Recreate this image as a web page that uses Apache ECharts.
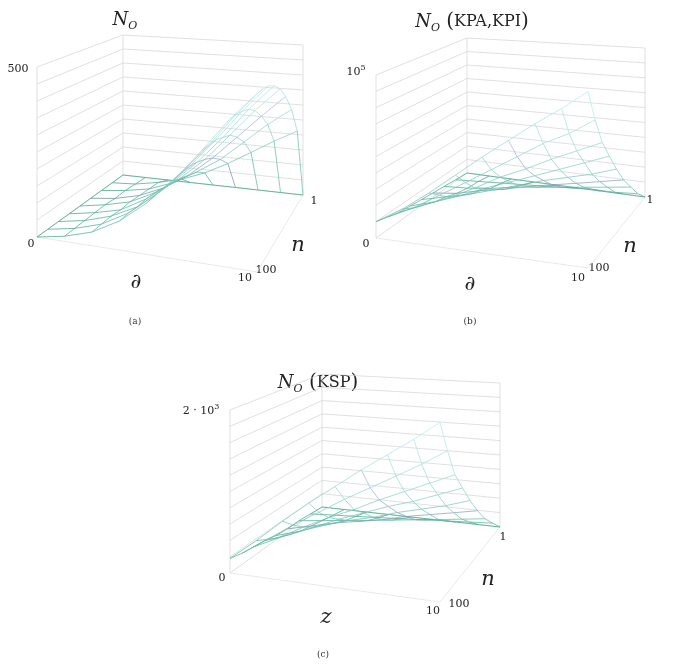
<!DOCTYPE html>
<html><head><meta charset="utf-8">
<script src="https://cdn.jsdelivr.net/npm/echarts@6/dist/echarts.min.js"></script>
<style>html,body{margin:0;padding:0;background:#fff}#c{width:676px;height:668px}</style>
</head><body><div id="c"></div>
<script>
// Surface heights as fraction of z-axis max. Rows: n from 1 (back) to 100 (front); cols: x-axis 0 -> 10
const surfA = [
 [0,0,0,0,0,0,0,0,0],
 [0,0.01,0.04,0.08,0.14,0.22,0.31,0.40,0.48],
 [0,0.02,0.05,0.11,0.20,0.30,0.43,0.56,0.67],
 [0,0.02,0.06,0.13,0.23,0.36,0.51,0.66,0.80],
 [0,0.03,0.07,0.15,0.26,0.40,0.57,0.74,0.89],
 [0,0.03,0.07,0.16,0.28,0.43,0.60,0.79,0.95],
 [0,0.03,0.08,0.16,0.29,0.45,0.63,0.82,0.99],
 [0,0.03,0.08,0.17,0.30,0.46,0.64,0.84,1.01],
 [0,0.03,0.08,0.17,0.30,0.46,0.65,0.85,1.02]
];
const surfB = [
 [0,0,0,0,0,0,0,0,0],
 [0.01,0.02,0.03,0.04,0.05,0.06,0.07,0.07,0.08],
 [0.02,0.03,0.05,0.08,0.10,0.12,0.14,0.16,0.18],
 [0.03,0.05,0.09,0.12,0.16,0.19,0.22,0.25,0.28],
 [0.04,0.08,0.12,0.17,0.22,0.27,0.31,0.35,0.40],
 [0.05,0.10,0.16,0.23,0.29,0.35,0.41,0.47,0.53],
 [0.06,0.13,0.20,0.28,0.37,0.44,0.52,0.59,0.66],
 [0.08,0.16,0.26,0.36,0.46,0.56,0.66,0.74,0.84],
 [0.10,0.20,0.32,0.45,0.58,0.70,0.82,0.93,1.05]
];
const surfC = [
 [0,0,0,0,0,0,0,0,0],
 [0.01,0.02,0.03,0.04,0.05,0.06,0.07,0.08,0.09],
 [0.02,0.04,0.06,0.08,0.10,0.12,0.14,0.16,0.18],
 [0.02,0.06,0.10,0.13,0.16,0.20,0.23,0.26,0.29],
 [0.03,0.08,0.14,0.19,0.23,0.28,0.32,0.36,0.41],
 [0.05,0.11,0.18,0.25,0.31,0.37,0.42,0.48,0.54],
 [0.06,0.14,0.23,0.31,0.38,0.46,0.53,0.60,0.67],
 [0.07,0.18,0.29,0.39,0.49,0.58,0.67,0.76,0.86],
 [0.09,0.22,0.36,0.49,0.61,0.73,0.84,0.95,1.07]
];
const nTicks = ['1','100'];
const xTicks = ['0','10'];

const panels = [
 {D:[123,175],C:[303,195],B:[257,272],A:[37,237],H:[140,150,175,170],s:surfA},
 {D:[467,173],C:[645,197],B:[588,268],A:[376,238],H:[135,149,168,163],s:surfB},
 {D:[322,507],C:[500,527],B:[440,602],A:[230,573],H:[133,144,168,163],s:surfC}
];
function lerp(a,b,t){return a+(b-a)*t;}
function proj(p,u,v,w){
 const bx=lerp(p.D[0],p.C[0],u), by=lerp(p.D[1],p.C[1],u);
 const fx=lerp(p.A[0],p.B[0],u), fy=lerp(p.A[1],p.B[1],u);
 const h=lerp(lerp(p.H[0],p.H[1],u),lerp(p.H[3],p.H[2],u),v);
 return [lerp(bx,fx,v), lerp(by,fy,v) - w*h];
}
const series=[];
function line(pts,color,width){series.push({type:'line',data:pts,symbol:'none',silent:true,lineStyle:{color:color,width:width}});}
function seg(pts,vals,width,tint){
 for(let k=0;k<pts.length-1;k++){
  const m=Math.min(1,(vals[k]+vals[k+1])/2);
  const lo=[70,168,140], hi=[190,236,240];
  const c=lo.map((x,i)=>Math.round(x+(hi[i]-x)*Math.pow(m,0.6)));
  let col='rgb('+c.join(',')+')';
  if(tint) col='rgb('+Math.round(c[0]*0.85+40)+','+Math.round(c[1]*0.8+10)+','+Math.round(c[2]*0.85+40)+')';
  line([pts[k],pts[k+1]],col,width);
 }
}
const wall='#d2d2d2';
panels.forEach(p=>{
 for(let k=0;k<=10;k++){
  const w=k/10;
  line([proj(p,0,1,w),proj(p,0,0,w),proj(p,1,0,w)],wall,0.7);
 }
 line([proj(p,0,1,0),proj(p,0,1,1)],wall,0.7);
 line([proj(p,0,0,0),proj(p,0,0,1)],wall,0.7);
 line([proj(p,1,0,0),proj(p,1,0,1)],wall,0.7);
 line([proj(p,0,1,0),proj(p,1,1,0),proj(p,1,0,0)],'#e0e0e0',0.7);
 const s=p.s, nr=s.length, nc=s[0].length;
 for(let i=0;i<nr;i++){
  const pts=[],vals=[];for(let j=0;j<nc;j++){pts.push(proj(p,j/(nc-1),i/(nr-1),s[i][j]));vals.push(s[i][j]);}
  seg(pts,vals,0.8,i===3);
 }
 for(let j=0;j<nc;j++){
  const pts=[],vals=[];for(let i=0;i<nr;i++){pts.push(proj(p,j/(nc-1),i/(nr-1),s[i][j]));vals.push(s[i][j]);}
  seg(pts,vals,0.8,j===5);
 }
});
const serif='"DejaVu Serif", "Liberation Serif", serif';
const rich={i:{fontFamily:serif,fontStyle:'italic',fontSize:18},s:{fontFamily:serif,fontStyle:'italic',fontSize:11,padding:[12,0,0,0]},
 r:{fontFamily:serif,fontSize:16},p:{fontFamily:serif,fontSize:20},
 t:{fontFamily:serif,fontSize:11},sup:{fontFamily:serif,fontSize:8,padding:[0,0,8,0]},
 m:{fontFamily:serif,fontStyle:'italic',fontSize:21}};
function T(x,y,t){return {type:'text',x:x,y:y,style:{text:t,rich:rich,textAlign:'center',textVerticalAlign:'middle',fill:'#222'}};}
const g=[
 T(125,20,'{i|N}{s|O}'),
 T(472,22,'{i|N}{s|O}{p| (}{r|KPA,KPI}{p|)}'),
 T(318,383,'{i|N}{s|O}{p| (}{r|KSP}{p|)}'),
 T(18,69,'{t|500}'), T(31,244,'{t|'+xTicks[0]+'}'), T(314,201,'{t|'+nTicks[0]+'}'), T(266,270,'{t|'+nTicks[1]+'}'), T(245,278,'{t|'+xTicks[1]+'}'),
 T(298,246,'{m|n}'), T(136,283,'{m|∂}'),
 T(356,72,'{t|10}{sup|5}'), T(366,244,'{t|'+xTicks[0]+'}'), T(650,200,'{t|'+nTicks[0]+'}'), T(599,268,'{t|'+nTicks[1]+'}'), T(578,278,'{t|'+xTicks[1]+'}'),
 T(630,247,'{m|n}'), T(470,285,'{m|∂}'),
 T(201,411,'{t|2 · 10}{sup|3}'), T(222,578,'{t|'+xTicks[0]+'}'), T(503,537,'{t|'+nTicks[0]+'}'), T(459,604,'{t|'+nTicks[1]+'}'), T(433,611,'{t|'+xTicks[1]+'}'),
 T(488,580,'{m|n}'), T(326,618,'{m|z}'),
 {type:'text',x:135,y:322,style:{text:'(a)',font:'9px '+serif,fill:'#333',textAlign:'center',textVerticalAlign:'middle'}},
 {type:'text',x:470,y:322,style:{text:'(b)',font:'9px '+serif,fill:'#333',textAlign:'center',textVerticalAlign:'middle'}},
 {type:'text',x:323,y:655,style:{text:'(c)',font:'9px '+serif,fill:'#333',textAlign:'center',textVerticalAlign:'middle'}}
];
const chart=echarts.init(document.getElementById('c'));
chart.setOption({animation:false,grid:{left:0,right:0,top:0,bottom:0},
 xAxis:{type:'value',min:0,max:676,show:false},yAxis:{type:'value',min:0,max:668,inverse:true,show:false},
 series:series,graphic:g});
</script></body></html>
